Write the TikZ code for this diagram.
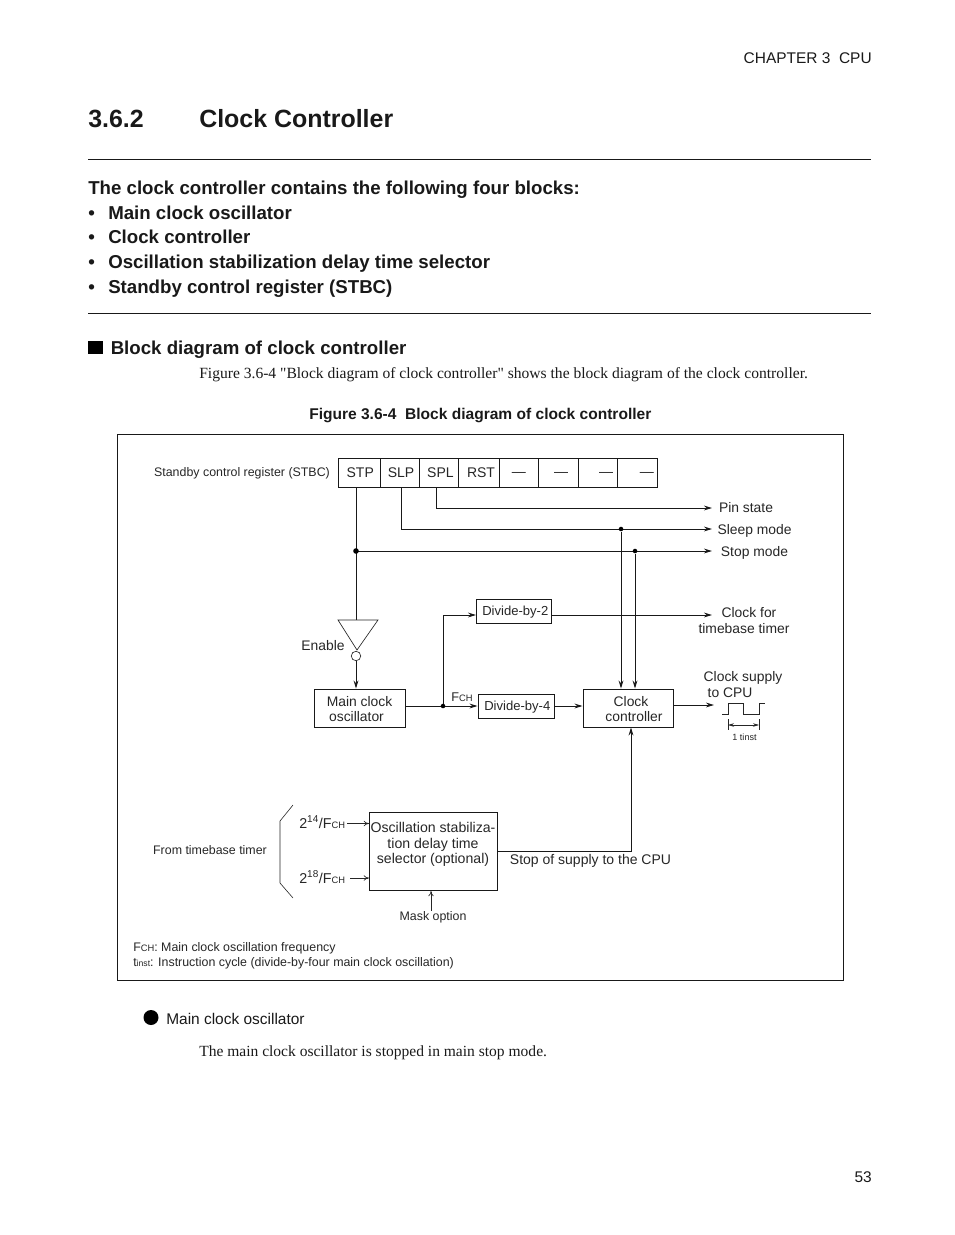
\documentclass[tikz,border=0pt]{standalone}
\usepackage{fontspec}
\setmainfont{Liberation Sans}
\newfontfamily\serifbody{Liberation Serif}
\usetikzlibrary{arrows.meta}

\def\px{.75pt}
\newcommand{\fch}{F{\scriptsize CH}}
\newcommand{\fpx}[1]{\fontsize{#1}{#1}\selectfont}
\newcommand{\bitdash}[1]{\hspace*{#1}\smash{\raisebox{-3.2pt}{---}}}

\tikzset{
  sigline/.style={line width=.75pt, black!90},
  sigarrow/.style={sigline, -{Stealth[length=6pt,width=3.6pt]}},
  openarrow/.style={line width=.5pt, black!85, -{To[length=4pt,width=4pt]}},
  blockbox/.style={draw=black!90, line width=.7pt, inner sep=0pt, align=center},
  label/.style={inner sep=0pt, text=black!85, font=\fpx{10.4}},
  small/.style={label, font=\fpx{9.3}},
  junction/.style={circle, fill=black, inner sep=0pt, minimum size=3.4pt},
  pagetext/.style={inner sep=0pt, anchor=base west, text=black!90},
  head/.style={pagetext, font=\fpx{14}\bfseries}
}

\begin{document}
\begin{tikzpicture}[x=.75pt, y=-.75pt]
  \useasboundingbox (0,0) rectangle (954,1235);

  % Page text
  \node[pagetext, anchor=base east, font=\fpx{11.6}] (chap) at (872,63) {CHAPTER 3\ \ CPU};
  \node[pagetext, font=\fpx{18.7}\bfseries] (secnum) at (88,127) {3.6.2};
  \node[pagetext, font=\fpx{18.7}\bfseries] (sectitle) at (199,127) {Clock Controller};
  \draw[sigline] (88,159.5) -- (871,159.5);
  \node[head] (intro) at (88,194) {The clock controller contains the following four blocks:};
  \foreach \name/\ypos/\txt in {bulla/219/Main clock oscillator, bullb/243/Clock controller,
      bullc/268/Oscillation stabilization delay time selector, bulld/293/Standby control register (STBC)} {
    \node[head] (\name) at (88,\ypos) {•};
    \node[head] (\name txt) at (108,\ypos) {\txt};
  }
  \draw[sigline] (88,313.5) -- (871,313.5);

  \fill[black] (88,341) rectangle (102.5,354);
  \node[head] (blocktitle) at (110.5,354) {Block diagram of clock controller};
  \node[pagetext, font=\serifbody\fpx{11.68}] (figref) at (199,378) {Figure 3.6-4 "Block diagram of clock controller" shows the block diagram of the clock controller.};
  \node[pagetext, font=\fpx{11.66}\bfseries] (figcap) at (309,419) {Figure 3.6-4\ \ Block diagram of clock controller};

  % Outer frame
  \draw[line width=.7pt, black!90] (117.5,434.5) rectangle (843.5,980.5);

  % Register cells
  \node[small] (stbclabel) at (242,473) {Standby control register (STBC)};
  \foreach \name/\xa/\xb/\txt in {stp/338/380.5/\hspace*{1.5pt}STP, slp/380.5/419.5/\hspace*{1.5pt}SLP, spl/419.5/458.5/\hspace*{2.2pt}SPL, rst/458.5/499/\hspace*{3.4pt}RST,
      bita/499/538.5/\bitdash{0pt}, bitb/538.5/578.5/\bitdash{4pt}, bitc/578.5/617.5/\bitdash{12pt}, bitd/617.5/657.5/\bitdash{14pt}} {
    \pgfmathsetmacro{\xmid}{(\xa+\xb)/2}
    \pgfmathsetmacro{\xlen}{\xb-\xa}
    \node[blockbox, label, font=\fpx{10.5}, draw=black!90, line width=.7pt, minimum width=\xlen*\px, minimum height=29*\px] (\name) at (\xmid,472.5) {\txt};
  }

  % Fixed points of the signal lines
  \coordinate (stpjoin) at (356,551);
  \coordinate (slpbend) at (401,529);
  \coordinate (splbend) at (436,508);
  \coordinate (sleepjoin) at (621,529);
  \coordinate (stopjoin) at (635,551);
  \coordinate (enabletop) at (356,620);
  \coordinate (pinend) at (712,508);
  \coordinate (sleepend) at (712,529);
  \coordinate (stopend) at (712,551);
  \coordinate (timebaseend) at (712,615);
  \coordinate (cpuend) at (714,705);

  % Output labels
  \node[label] (pinlabel) at (746,507.5) {Pin state};
  \node[label] (sleeplabel) at (754.5,531) {Sleep mode};
  \node[label] (stoplabel) at (754.5,553) {Stop mode};
  \node[label, align=center] (timebaselabel) at (744,620.5) {\hspace*{7.5pt}Clock for\\[2pt]timebase timer};
  \node[label, align=left] (cpulabel) at (743,684.5) {Clock supply\\[1.5pt]\hspace*{3pt}to CPU};

  % Blocks
  \node[blockbox, label, minimum width=91*\px, minimum height=38*\px] (mainosc) at (359.5,708) {\rule{0pt}{9pt}Main clock\\[.5pt]oscillator\hspace*{4.5pt}};
  \node[blockbox, small, font=\fpx{9.8}, text height=8.5pt, minimum width=75*\px, minimum height=24*\px] (divtwo) at (514,611) {\hspace*{2pt}Divide-by-2};
  \node[blockbox, small, font=\fpx{9.8}, text height=8.5pt, minimum width=76*\px, minimum height=24*\px] (divfour) at (516,706) {\hspace*{2pt}Divide-by-4};
  \node[blockbox, label, minimum width=90*\px, minimum height=38*\px] (clockctl) at (628,708) {\rule{0pt}{9pt}\hspace*{4.5pt}Clock\\[1pt]\hspace*{9pt}controller};
  \node[blockbox, label, minimum width=128*\px, minimum height=78*\px, anchor=north west] (stabsel) at (369,812) {};
  \node[label, font=\fpx{10.6}, align=center] (stabtext) at (433,844.5) {Oscillation stabiliza-\\[1.5pt]tion delay time\\[1pt]selector (optional)};

  % Register outputs
  \draw[sigline] (stp.south -| stpjoin) -- (enabletop);
  \draw[sigline] (slp.south -| slpbend) -- (slpbend);
  \draw[sigline] (spl.south -| splbend) -- (splbend);
  \draw[sigarrow] (splbend) -- (pinend);
  \draw[sigarrow] (slpbend) -- (sleepend);
  \draw[sigarrow] (stpjoin) -- (stopend);
  \node[junction, minimum size=4.2pt] (stpdot) at (stpjoin) {};
  \node[junction] (sleepdot) at (sleepjoin) {};
  \node[junction] (stopdot) at (stopjoin) {};
  \draw[sigarrow] (sleepdot) -- (sleepdot |- clockctl.north);
  \draw[sigarrow] (stopdot) -- (stopdot |- clockctl.north);

  % Enable gate
  \draw[line width=.5pt, black!85] (338,620) -- (378,620) -- (357,650) -- cycle;
  \node[circle, draw=black!85, line width=.5pt, inner sep=0pt, minimum size=9.5*\px] (bubble) at (356,656) {};
  \node[label] (enablelabel) at (323,645.5) {Enable};
  \draw[sigarrow] (bubble.south) -- (bubble.south |- mainosc.north);

  % Clock paths
  \coordinate (fchjoin) at (443,706);
  \draw[sigarrow] (mainosc.east |- divfour.west) -- (divfour.west);
  \draw[sigarrow] (fchjoin) |- (divtwo.west |- timebaseend);
  \node[junction] (fchdot) at (fchjoin) {};
  \node[label, anchor=base] (fchlabel) at (462,701) {\fpx{9.5}\fch};
  \draw[sigarrow] (divtwo.east |- timebaseend) -- (timebaseend);
  \draw[sigarrow] (divfour.east) -- (clockctl.west |- divfour.east);
  \draw[sigarrow] (clockctl.east |- cpuend) -- (cpuend);
  \node[label, font=\fpx{10.5}] (stoptext) at (590.5,861) {Stop of supply to the CPU};
  \draw[sigarrow] (stabsel.east) -| (clockctl.south -| 631,0);

  % Clock waveform
  \draw[line width=.5pt, black!85] (722,714.5) -- (728,714.5) -- (728,703.5) -- (743,703.5)
    -- (743,714.5) -- (759,714.5) -- (759,703.5) -- (765,703.5);
  \coordinate (tinsta) at (728,725);
  \coordinate (tinstb) at (759,725);
  \draw[line width=.45pt, black!85, {Stealth[length=4.5pt,width=2.6pt]}-{Stealth[length=4.5pt,width=2.6pt]}] (tinsta) -- (tinstb);
  \draw[line width=.45pt, black!85] (728,719) -- (728,730) (759,719) -- (759,730);
  \node[label, font=\fpx{6.8}] (tinstlabel) at (744.5,737) {1 tinst};

  % Timebase inputs
  \node[small] (fromlabel) at (210,850) {From timebase timer};
  \draw[line width=.45pt, black!85] (293,805) -- (280,821) -- (280,883) -- (293,898);
  \node[label, font=\fpx{10.7}, anchor=base west] (fourteen) at (299,828) {2\textsuperscript{14}/\fch};
  \node[label, font=\fpx{10.7}, anchor=base west] (eighteen) at (299,883) {2\textsuperscript{18}/\fch};
  \draw[openarrow] (347,823.5) -- (369,823.5);
  \draw[openarrow] (350,878) -- (369,878);
  \node[small] (masklabel) at (433,917) {Mask option};
  \draw[openarrow] (masklabel.north -| 431,0) -- (stabsel.south -| 431,0);

  % Notes in the frame
  \node[pagetext, font=\fpx{9.3}, text=black!85] (notefch) at (133,951) {\fch: Main clock oscillation frequency};
  \node[pagetext, font=\fpx{9.3}, text=black!85] (notetinst) at (133,966) {t{\fpx{6.5}inst}: Instruction cycle (divide-by-four main clock oscillation)};

  % Below the frame
  \fill[black] (151,1017.5) circle (7.5);
  \node[pagetext, font=\fpx{11.6}] (subhead) at (166,1024) {Main clock oscillator};
  \node[pagetext, font=\serifbody\fpx{11.65}] (subtext) at (199,1056) {The main clock oscillator is stopped in main stop mode.};
  \node[pagetext, anchor=base east, font=\fpx{11.6}] (pagenum) at (872,1182) {53};
\end{tikzpicture}
\end{document}
